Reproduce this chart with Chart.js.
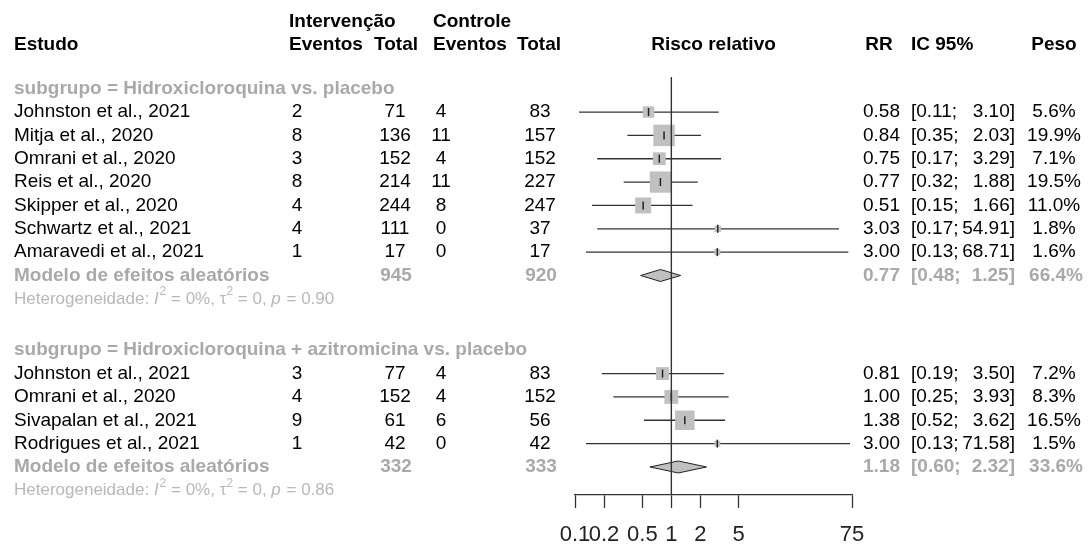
<!DOCTYPE html>
<html>
<head>
<meta charset="utf-8">
<script src="https://cdn.jsdelivr.net/npm/chart.js@4.4.0/dist/chart.umd.min.js"></script>
<style>
  html, body { margin: 0; padding: 0; background: #fff; }
  #wrap { width: 1090px; height: 547px; }
</style>
</head>
<body>
<div id="wrap"><canvas id="forestPlot"></canvas></div>
<script>
// subgroup names
var subgroups = ['subgrupo = Hidroxicloroquina vs. placebo', 'subgrupo = Hidroxicloroquina + azitromicina vs. placebo'];

// group 1
var studies1 = ['Johnston et al., 2021', 'Mitja et al., 2020', 'Omrani et al., 2020', 'Reis et al., 2020', 'Skipper et al., 2020', 'Schwartz et al., 2021', 'Amaravedi et al., 2021'];
var evtInt1 = [2, 8, 3, 8, 4, 4, 1];
var totInt1 = [71, 136, 152, 214, 244, 111, 17];
var evtCtl1 = [4, 11, 4, 11, 8, 0, 0];
var totCtl1 = [83, 157, 152, 227, 247, 37, 17];
var rr1 = [0.58, 0.84, 0.75, 0.77, 0.51, 3.03, 3.00];
var lower1 = [0.11, 0.35, 0.17, 0.32, 0.15, 0.17, 0.13];
var upper1 = [3.10, 2.03, 3.29, 1.88, 1.66, 54.91, 68.71];
var weight1 = [5.6, 19.9, 7.1, 19.5, 11.0, 1.8, 1.6];

// group 2
var studies2 = ['Johnston et al., 2021', 'Omrani et al., 2020', 'Sivapalan et al., 2021', 'Rodrigues et al., 2021'];
var evtInt2 = [3, 4, 9, 1];
var totInt2 = [77, 152, 61, 42];
var evtCtl2 = [4, 4, 6, 0];
var totCtl2 = [83, 152, 56, 42];
var rr2 = [0.81, 1.00, 1.38, 3.00];
var lower2 = [0.19, 0.25, 0.52, 0.13];
var upper2 = [3.50, 3.93, 3.62, 71.58];
var weight2 = [7.2, 8.3, 16.5, 1.5];

// random effects model per subgroup
var pooledRR = [0.77, 1.18];
var pooledLower = [0.48, 0.60];
var pooledUpper = [1.25, 2.32];
var pooledWeight = [66.4, 33.6];
var pooledTotInt = [945, 332];
var pooledTotCtl = [920, 333];
var heteroI2 = ['0%', '0%'];
var heteroTau2 = ['0', '0'];
var heteroP = ['0.90', '0.86'];

// axis
var axisTicks = [0.1, 0.2, 0.5, 1, 2, 5, 75];
var axisTickLabels = ['0.1', '0.2', '0.5', '1', '2', '5', '75'];

var groups = [
  { studies: studies1, ei: evtInt1, ti: totInt1, ec: evtCtl1, tc: totCtl1, rr: rr1, lo: lower1, hi: upper1, w: weight1 },
  { studies: studies2, ei: evtInt2, ti: totInt2, ec: evtCtl2, tc: totCtl2, rr: rr2, lo: lower2, hi: upper2, w: weight2 }
];
var groupStart = [0, 11.2];

var fontFam = '"Liberation Sans", Arial, sans-serif';
var grey = '#a9a9a9';
var lightGrey = '#b8b8b8';
var lineCol = '#333333';

// build datasets
var datasets = [];
var boxPts = [], boxRad = [], tickPts = [];
groups.forEach(function (g, gi) {
  g.studies.forEach(function (s, i) {
    var r = groupStart[gi] + 1 + i;
    datasets.push({
      type: 'line',
      data: [{ x: g.lo[i], y: r }, { x: g.hi[i], y: r }],
      borderColor: lineCol,
      borderWidth: 1.3,
      pointRadius: 0,
      order: 3
    });
    boxPts.push({ x: g.rr[i], y: r });
    boxRad.push(3.4 * Math.sqrt(g.w[i]));
    tickPts.push({ x: g.rr[i], y: r });
  });
});
datasets.push({
  data: boxPts,
  pointStyle: 'rect',
  pointRadius: boxRad,
  backgroundColor: '#c0c0c0',
  borderWidth: 0,
  order: 2
});
datasets.push({
  data: tickPts,
  pointStyle: 'line',
  rotation: 90,
  pointRadius: 4,
  borderColor: '#222',
  borderWidth: 1.5,
  order: 1
});

function put(c, s, x, y, align, bold, size, color, italic) {
  c.font = (italic ? 'italic ' : '') + (bold ? 'bold ' : '') + size + 'px ' + fontFam;
  c.fillStyle = color;
  c.textAlign = align;
  c.textBaseline = 'middle';
  c.fillText(s, x, y);
}

var forestText = {
  id: 'forestText',
  afterDatasetsDraw: function (chart) {
    var c = chart.ctx, xs = chart.scales.x, ys = chart.scales.y, a = chart.chartArea;
    var Y = function (r) { return ys.getPixelForValue(r); };
    c.save();

    // pooled diamonds
    groups.forEach(function (g, gi) {
      var r = groupStart[gi] + 1 + g.studies.length;
      var yc = Y(r), h = 6;
      c.beginPath();
      c.moveTo(xs.getPixelForValue(pooledLower[gi]), yc);
      c.lineTo(xs.getPixelForValue(pooledRR[gi]), yc - h);
      c.lineTo(xs.getPixelForValue(pooledUpper[gi]), yc);
      c.lineTo(xs.getPixelForValue(pooledRR[gi]), yc + h);
      c.closePath();
      c.fillStyle = '#c0c0c0';
      c.fill();
      c.strokeStyle = '#222';
      c.lineWidth = 1;
      c.stroke();
    });

    // reference line at 1
    var x1 = xs.getPixelForValue(1);
    c.beginPath();
    c.moveTo(x1, a.top);
    c.lineTo(x1, a.bottom);
    c.strokeStyle = lineCol;
    c.lineWidth = 1.4;
    c.stroke();

    // headers
    var fs = 19;
    put(c, 'Intervenção', 289, Y(-2.86), 'left', true, fs, '#000');
    put(c, 'Controle', 433, Y(-2.86), 'left', true, fs, '#000');
    put(c, 'Estudo', 14, Y(-1.89), 'left', true, fs, '#000');
    put(c, 'Eventos', 289, Y(-1.89), 'left', true, fs, '#000');
    put(c, 'Total', 374, Y(-1.89), 'left', true, fs, '#000');
    put(c, 'Eventos', 433, Y(-1.89), 'left', true, fs, '#000');
    put(c, 'Total', 517, Y(-1.89), 'left', true, fs, '#000');
    put(c, 'Risco relativo', (a.left + a.right) / 2, Y(-1.89), 'center', true, fs, '#000');
    put(c, 'RR', 879, Y(-1.89), 'center', true, fs, '#000');
    put(c, 'IC 95%', 911, Y(-1.89), 'left', true, fs, '#000');
    put(c, 'Peso', 1054, Y(-1.89), 'center', true, fs, '#000');

    groups.forEach(function (g, gi) {
      var r0 = groupStart[gi];
      put(c, subgroups[gi], 14, Y(r0), 'left', true, fs, grey);
      g.studies.forEach(function (s, i) {
        var y = Y(r0 + 1 + i);
        put(c, s, 14, y, 'left', false, fs, '#000');
        put(c, String(g.ei[i]), 297, y, 'center', false, fs, '#000');
        put(c, String(g.ti[i]), 395, y, 'center', false, fs, '#000');
        put(c, String(g.ec[i]), 441, y, 'center', false, fs, '#000');
        put(c, String(g.tc[i]), 540, y, 'center', false, fs, '#000');
        put(c, g.rr[i].toFixed(2), 900, y, 'right', false, fs, '#000');
        put(c, '[' + g.lo[i].toFixed(2) + ';', 911, y, 'left', false, fs, '#000');
        put(c, g.hi[i].toFixed(2) + ']', 1015, y, 'right', false, fs, '#000');
        put(c, g.w[i].toFixed(1) + '%', 1054, y, 'center', false, fs, '#000');
      });
      var rp = r0 + 1 + g.studies.length;
      var yp = Y(rp);
      put(c, 'Modelo de efeitos aleatórios', 14, yp, 'left', true, fs, grey);
      put(c, String(pooledTotInt[gi]), 396, yp, 'center', true, fs, grey);
      put(c, String(pooledTotCtl[gi]), 541, yp, 'center', true, fs, grey);
      put(c, pooledRR[gi].toFixed(2), 900, yp, 'right', true, fs, grey);
      put(c, '[' + pooledLower[gi].toFixed(2) + ';', 911, yp, 'left', true, fs, grey);
      put(c, pooledUpper[gi].toFixed(2) + ']', 1015, yp, 'right', true, fs, grey);
      put(c, pooledWeight[gi].toFixed(1) + '%', 1056, yp, 'center', true, fs, grey);

      // heterogeneity line
      var yh = Y(rp + 1), xh = 14, hs = 17;
      var parts = [
        ['Heterogeneidade: ', false, hs, 0],
        ['I', true, hs, 0],
        ['2', false, 12, -7],
        [' = ' + heteroI2[gi] + ', ', false, hs, 0],
        ['τ', false, hs, 0],
        ['2', false, 12, -7],
        [' = ' + heteroTau2[gi] + ', ', false, hs, 0],
        ['p', true, hs, 0],
        [' = ' + heteroP[gi], false, hs, 0]
      ];
      parts.forEach(function (p) {
        put(c, p[0], xh, yh + p[3], 'left', false, p[2], lightGrey, p[1]);
        xh += c.measureText(p[0]).width + (p[1] ? 1 : 0);
      });
    });
    c.restore();
  }
};

var ctx = document.getElementById('forestPlot').getContext('2d');
var chart = new Chart(ctx, {
  type: 'scatter',
  data: { datasets: datasets },
  options: {
    responsive: true,
    maintainAspectRatio: false,
    animation: false,
    layout: { padding: { left: 575, right: 238, top: 77, bottom: -15 } },
    plugins: { legend: { display: false }, tooltip: { enabled: false } },
    scales: {
      x: {
        type: 'logarithmic',
        min: 0.1,
        max: 75,
        afterBuildTicks: function (s) {
          s.ticks = axisTicks.map(function (v) { return { value: v }; });
        },
        ticks: {
          autoSkip: false,
          maxRotation: 0,
          minRotation: 0,
          padding: 16,
          color: '#222',
          font: { family: fontFam, size: 22, lineHeight: 1 },
          callback: function (v) {
            var i = axisTicks.indexOf(v);
            return i >= 0 ? axisTickLabels[i] : '';
          }
        },
        grid: { drawOnChartArea: false, tickLength: 13, tickColor: '#333', tickWidth: 1.3 },
        border: { color: '#333', width: 1.3 }
      },
      y: { type: 'linear', reverse: true, min: -0.5, max: 17.4, display: false }
    }
  },
  plugins: [forestText]
});
</script>
</body>
</html>
